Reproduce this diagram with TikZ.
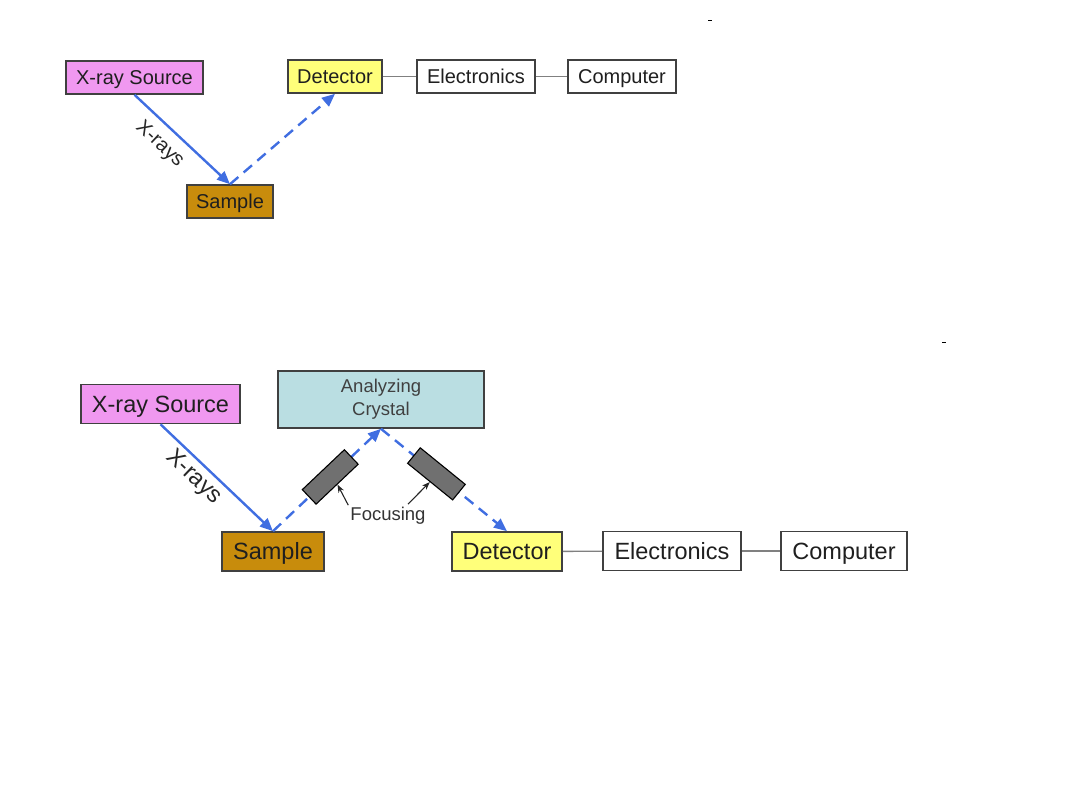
\documentclass[tikz,border=0pt]{standalone}
\usepackage{fontspec}
\setmainfont{Liberation Sans}
\usetikzlibrary{arrows.meta,calc}
\definecolor{srcpink}{RGB}{240,152,240}
\definecolor{detyellow}{RGB}{255,255,122}
\definecolor{smpgold}{RGB}{200,140,12}
\definecolor{crysblue}{RGB}{186,222,226}
\definecolor{beam}{RGB}{64,110,225}
\definecolor{boxline}{RGB}{64,64,64}
\definecolor{linkgray}{RGB}{128,128,128}
\definecolor{focgray}{RGB}{112,112,112}
\begin{document}
\begin{tikzpicture}[x=1pt,y=-1pt,
  box/.style={draw=boxline,line width=1.6pt,inner sep=0pt,text=black!88,text depth=0pt},
  topbox/.style={box,minimum height=33pt,text height=14.4pt,font=\fontsize{20}{24}\selectfont},
  botbox/.style={box,minimum height=39pt,text height=16.9pt,font=\fontsize{23.5}{28}\selectfont},
  beamline/.style={draw=beam,line width=2.4pt,-{Triangle[length=13pt,width=11pt]}},
  dashbeam/.style={beamline,dash pattern=on 11pt off 7pt},
  link/.style={draw=linkgray,line width=1.4pt},
  focus/.style={draw=black,solid,fill=focgray,line width=1.1pt,minimum width=58pt,minimum height=20pt,inner sep=0pt},
  lbl/.style={text=black!85,inner sep=0pt}
]
\useasboundingbox (0,0) rectangle (1080,810);

% ---------- top diagram ----------
\node[topbox,fill=srcpink,minimum width=137pt] (s1) at (134.5,77.5) {X-ray Source};
\node[topbox,fill=detyellow,minimum width=94pt] (d1) at (335,76.5) {Detector};
\node[topbox,fill=white,minimum width=118pt] (e1) at (476,76.5) {Electronics};
\node[topbox,fill=white,minimum width=108pt] (c1) at (622,76.5) {Computer};
\node[topbox,fill=smpgold,minimum width=86pt] (m1) at (230,201.5) {Sample};
\draw[beamline] (s1.south) -- (m1.north)
  node[pos=0.40,sloped,below=9pt,lbl,font=\fontsize{20}{24}\selectfont] {X-rays};
\draw[dashbeam] (m1.north) -- (d1.south);
\draw[link] (d1) -- (e1);
\draw[link] (e1) -- (c1);

% ---------- bottom diagram ----------
\node[botbox,fill=srcpink,minimum width=159pt] (s2) at (160.5,404) {X-ray Source};
\node[draw=boxline,line width=1.6pt,fill=crysblue,minimum width=206pt,minimum height=57pt,align=center,inner sep=0pt,
  font=\fontsize{18.5}{23}\selectfont,text=black!75] (cr) at (381,399.5) {Analyzing\\Crystal};
\node[botbox,fill=smpgold,minimum width=102pt] (m2) at (273,551.5) {Sample};
\node[botbox,fill=detyellow,minimum width=110pt] (d2) at (507,551.5) {Detector};
\node[botbox,fill=white,minimum width=138pt] (e2) at (672,551) {Electronics};
\node[botbox,fill=white,minimum width=126pt] (c2) at (844,551) {Computer};
\draw[beamline] (s2.south) -- (m2.north)
  node[pos=0.39,sloped,below=4pt,lbl,font=\fontsize{23.5}{28}\selectfont] {X-rays};
\draw[dashbeam] (m2.north) -- (cr.south)
  node[pos=0.53,sloped,focus] (f1) {};
\draw[dashbeam] (cr.south) -- (d2.north)
  node[pos=0.44,sloped,focus] (f2) {};
\draw[link] (e2) -- (d2);
\draw[link] (e2) -- (c2);

\node[font=\fontsize{18.5}{22}\selectfont,text=black!80,inner sep=0pt] (foc) at (388,516) {Focusing};
\draw[black!85,line width=1.1pt,-{Stealth[length=8pt,width=6pt]}] ([xshift=-2pt,yshift=2pt]foc.north west) -- (f1.south);
\draw[black!85,line width=1.1pt,-{Stealth[length=8pt,width=6pt]}] ([xshift=20pt,yshift=3pt]foc.north) -- (f2.south);

% small marks
\draw[black,line width=1pt] (708,20.5) -- (712,20.5);
\draw[black,line width=1pt] (942,342.5) -- (946,342.5);
\end{tikzpicture}
\end{document}
